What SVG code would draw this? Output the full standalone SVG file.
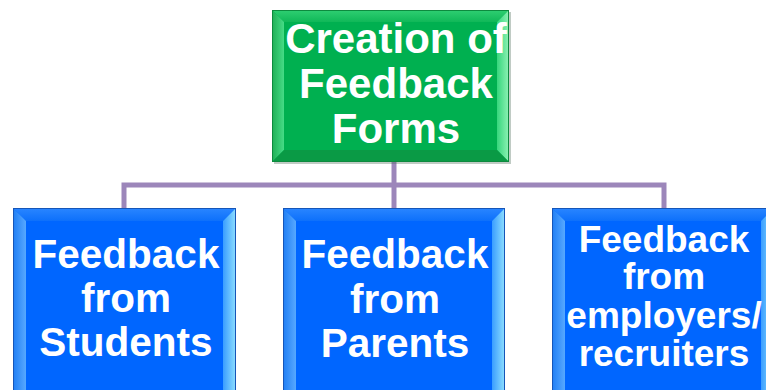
<svg xmlns="http://www.w3.org/2000/svg" width="766" height="390" viewBox="0 0 766 390">
<defs>
<style>
.lbl{font-family:"Liberation Sans",Arial,sans-serif;font-weight:bold;fill:#ffffff;text-anchor:middle}
.conn{stroke:#9C86BA;stroke-width:5;fill:none}
</style>
<linearGradient id="gTop" x1="0" y1="0" x2="0" y2="1"><stop offset="0" stop-color="#2fcf72"/><stop offset="1" stop-color="#10b858"/></linearGradient>
<linearGradient id="gL" x1="0" y1="0" x2="1" y2="0"><stop offset="0" stop-color="#1fae55"/><stop offset="1" stop-color="#45dc86"/></linearGradient>
<linearGradient id="gR" x1="0" y1="0" x2="1" y2="0"><stop offset="0" stop-color="#36d67c"/><stop offset="1" stop-color="#8ef2b5"/></linearGradient>
<linearGradient id="bTop" x1="0" y1="0" x2="0" y2="1"><stop offset="0" stop-color="#2a86ff"/><stop offset="1" stop-color="#0d70fb"/></linearGradient>
<linearGradient id="bL" x1="0" y1="0" x2="1" y2="0"><stop offset="0" stop-color="#1f7ef5"/><stop offset="1" stop-color="#56a8ff"/></linearGradient>
<linearGradient id="bR" x1="0" y1="0" x2="1" y2="0"><stop offset="0" stop-color="#3a9dff"/><stop offset="1" stop-color="#8fe0ff"/></linearGradient>
</defs>
<g id="connectors">
<path class="conn" d="M394,160 V210"/>
<path class="conn" d="M124,210 V185 H664 V210"/>
</g>
<g id="top">
<rect x="274" y="12" width="237" height="152" fill="#4a6b55" opacity="0.35"/>
<rect x="272" y="10" width="237" height="152" fill="#00b050"/>
<polygon points="272,10 509,10 497,22 284,22" fill="url(#gTop)"/>
<polygon points="272,10 284,22 284,150 272,162" fill="url(#gL)"/>
<polygon points="509,10 497,22 497,150 509,162" fill="url(#gR)"/>
<polygon points="272,162 284,150 497,150 509,162" fill="#0a9a45"/>
<rect x="284" y="22" width="213" height="128" fill="#00b050"/>
<rect x="272.5" y="10.5" width="236" height="151" fill="none" stroke="#0d8a3e" stroke-width="1"/>
<text class="lbl" font-size="42" x="396" y="53">Creation of</text>
<text class="lbl" font-size="42" x="396" y="98">Feedback</text>
<text class="lbl" font-size="42" x="396" y="143">Forms</text>
</g>
<g id="students">
<rect x="13" y="208" width="223" height="200" fill="#0066ff"/>
<polygon points="13,208 236,208 223,221 26,221" fill="url(#bTop)"/>
<polygon points="13,208 26,221 26,400 13,400" fill="url(#bL)"/>
<polygon points="236,208 223,221 223,400 236,400" fill="url(#bR)"/>
<rect x="26" y="221" width="197" height="180" fill="#0066ff"/>
<rect x="13.5" y="208.5" width="222" height="200" fill="none" stroke="#1656b8" stroke-width="1"/>
<text class="lbl" font-size="40.5" x="126" y="268">Feedback</text>
<text class="lbl" font-size="40.5" x="126" y="312">from</text>
<text class="lbl" font-size="40.5" x="126" y="356">Students</text>
</g>
<g id="parents">
<rect x="283" y="208" width="222" height="200" fill="#0066ff"/>
<polygon points="283,208 505,208 492,221 296,221" fill="url(#bTop)"/>
<polygon points="283,208 296,221 296,400 283,400" fill="url(#bL)"/>
<polygon points="505,208 492,221 492,400 505,400" fill="url(#bR)"/>
<rect x="296" y="221" width="196" height="180" fill="#0066ff"/>
<rect x="283.5" y="208.5" width="221" height="200" fill="none" stroke="#1656b8" stroke-width="1"/>
<text class="lbl" font-size="40.5" x="395" y="268">Feedback</text>
<text class="lbl" font-size="40.5" x="395" y="313">from</text>
<text class="lbl" font-size="40.5" x="395" y="357">Parents</text>
</g>
<g id="employers">
<rect x="552" y="208" width="222" height="200" fill="#0066ff"/>
<polygon points="552,208 774,208 761,221 565,221" fill="url(#bTop)"/>
<polygon points="552,208 565,221 565,400 552,400" fill="url(#bL)"/>
<polygon points="774,208 761,221 761,400 774,400" fill="url(#bR)"/>
<rect x="565" y="221" width="196" height="180" fill="#0066ff"/>
<rect x="552.5" y="208.5" width="221" height="200" fill="none" stroke="#1656b8" stroke-width="1"/>
<text class="lbl" font-size="37" x="664" y="252">Feedback</text>
<text class="lbl" font-size="37" x="664" y="289">from</text>
<text class="lbl" font-size="37" x="664" y="328">employers/</text>
<text class="lbl" font-size="37" x="664" y="366">recruiters</text>
</g>
</svg>
